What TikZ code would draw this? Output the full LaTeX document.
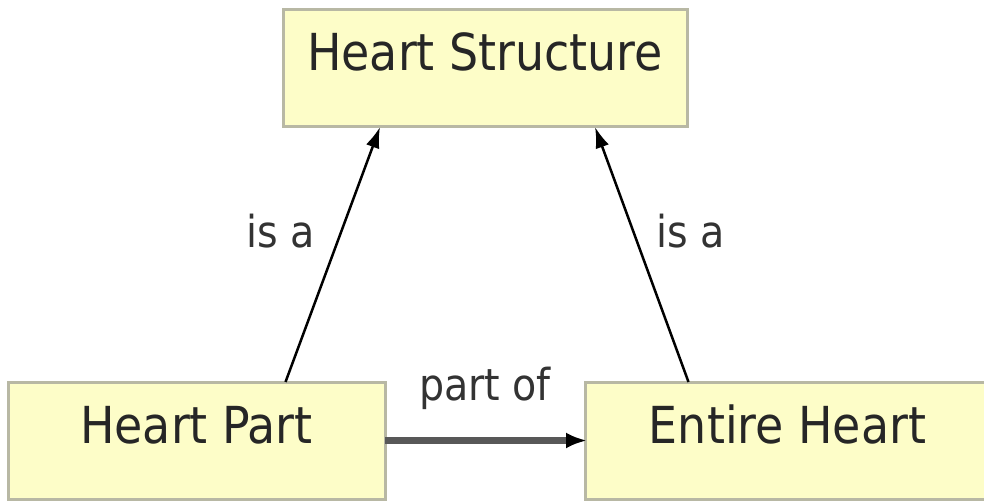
\documentclass[tikz,border=0pt]{standalone}
\usepackage{fontspec}
\setmainfont{DejaVu Sans Condensed}
\usepackage{tikz}
\usetikzlibrary{arrows.meta}

\definecolor{boxfill}{HTML}{FDFDC8}
\definecolor{boxline}{HTML}{B8B8A4}
\definecolor{partline}{HTML}{585858}

\begin{document}
\begin{tikzpicture}[x=1pt,y=1pt,
	concept/.style={draw=boxline, fill=boxfill, line width=3pt, anchor=north west, outer sep=0pt,
		inner xsep=0pt, inner ysep=0pt, text height=61pt, text depth=56pt,
		font=\fontsize{51}{60}\selectfont, text=black!85},
	relation/.style={font=\fontsize{44}{52}\selectfont, text=black!80, inner sep=0pt},
    isa/.style={line width=2.5pt, -{Latex[length=21pt,width=14pt]}},
    partof/.style={draw=partline, line width=7pt, -{Latex[length=21pt,width=16pt,color=black]}, shorten >=-2pt}]

    \useasboundingbox (0,0) rectangle (984,501);

    \node[concept, minimum width=404pt] (hs) at (283,491) {Heart Structure};
    \node[concept, minimum width=377pt] (hp) at (8,119) {Heart Part};
    \node[concept, minimum width=405pt] (eh) at (585,119) {Entire Heart};

    % is a
    \draw[isa] ([xshift=89pt]hp.north) -- node[relation, pos=0.59, left=25pt] {is a} ([xshift=-105pt]hs.south);
    \draw[isa] ([xshift=-99pt]eh.north) -- node[relation, pos=0.59, right=22pt] {is a} ([xshift=110pt]hs.south);

    % part of
    \draw[partof] (hp.east) -- node[relation, above=27pt] {part of} (eh.west);

\end{tikzpicture}
\end{document}
